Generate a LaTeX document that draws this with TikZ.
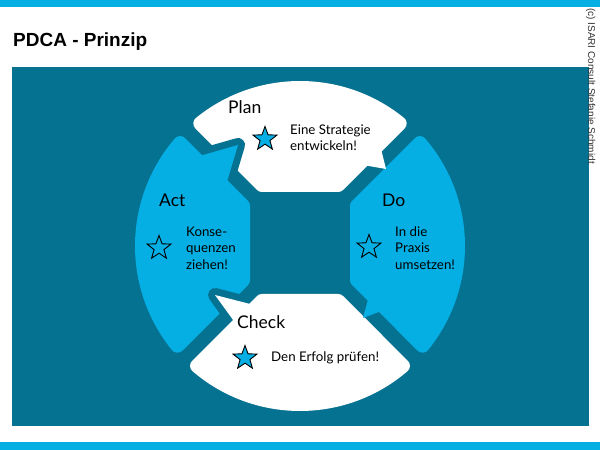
\documentclass[tikz,border=0pt]{standalone}
\usepackage{fontspec}
\setmainfont{Lato}
\newfontfamily\arialfont{Liberation Sans}
\usetikzlibrary{shapes.geometric}
\definecolor{pdcateal}{HTML}{067291}
\definecolor{pdcacyan}{HTML}{05AEE3}
\definecolor{copygray}{HTML}{333333}
\begin{document}
\begin{tikzpicture}[x=1pt,y=1pt,
  body/.style={line width=14pt, line join=round},
  clearance/.style={draw=pdcateal, fill=pdcateal, line width=14pt, line join=round},
  starshape/.style={star, star points=5, star point ratio=2.4, minimum size=25pt, inner sep=0pt, draw=black, line width=0.9pt},
  head/.style={font=\fontsize{17.5}{20}\selectfont, anchor=base west, inner sep=0pt, text=black},
  txt/.style={font=\fontsize{13.3}{16}\selectfont, anchor=base west, inner sep=0pt, text=black}]

\useasboundingbox (0,0) rectangle (600,450);
\fill[white] (0,0) rectangle (600,450);
\fill[pdcacyan] (0,443) rectangle (600,450);
\fill[pdcacyan] (0,0) rectangle (600,8.3);
\fill[pdcateal] (12,24) rectangle (589,383);

% bodies (shrunk shapes, widened by a round stroke of the same colour)
\filldraw[white, body] (261.9,265) -- ([shift={(300,204)}]129.12:158) arc[start angle=129.12, end angle=50.88, radius=158] -- (338.1,265) -- cycle;
\filldraw[pdcacyan, body] (357,244.1) -- ([shift={(300,204)}]40.66:158) arc[start angle=40.66, end angle=-39.12, radius=158] -- (357,169.9) -- cycle;
\filldraw[white, body] (261.9,149) -- ([shift={(300,204)}]-130.66:158) arc[start angle=-130.66, end angle=-49.34, radius=158] -- (338.1,149) -- cycle;
\filldraw[pdcacyan, body] (243,244.1) -- ([shift={(300,204)}]139.34:158) arc[start angle=139.34, end angle=219.12, radius=158] -- (243,169.9) -- cycle;

% tails that only touch their neighbour
\fill[white] (380,305) -- (386,281) -- (363,285) -- cycle;
\fill[pdcacyan] (369,154) -- (363,132) -- (384,140) -- cycle;

% Act tail cutting into Plan
\begin{scope}
  \clip (57,450) -- (600,450) -- (600,-93) -- cycle;
  \filldraw[clearance] (196,293) -- (238,305) -- (226,265) -- cycle;
\end{scope}
\fill[pdcacyan] (196,293) -- (238,305) -- (226,265) -- cycle;

% Check tail cutting into Act
\begin{scope}
  \clip (0,-93) -- (543,450) -- (0,450) -- cycle;
  \filldraw[clearance] (254,145) -- (215,155) -- (236,126) -- cycle;
\end{scope}
\fill[white] (254,145) -- (215,155) -- (236,126) -- cycle;

% title and copyright
\node[font=\arialfont\bfseries\fontsize{19}{23}\selectfont, anchor=base west, inner sep=0pt] (title) at (13,403) {PDCA - Prinzip};
\node[font=\arialfont\fontsize{10}{12}\selectfont, text=copygray, anchor=base west, rotate=-90, inner sep=0pt] (copy) at (588,442) {(c) ISARI Consult Stefanie Schmidt};

% Plan
\node[head] (plan) at (228,336) {Plan};
\node[starshape, fill=pdcacyan] (planstar) at (265,311) {};
\node[txt] (plan1) at (290,315) {Eine Strategie};
\node[txt] (plan2) at (290,299) {entwickeln!};

% Do
\node[head] (do) at (382,243) {Do};
\node[starshape, fill=pdcacyan] (dostar) at (369,203) {};
\node[txt] (do1) at (395,213) {In die};
\node[txt] (do2) at (395,197) {Praxis};
\node[txt] (do3) at (395,180) {umsetzen!};

% Check
\node[head] (check) at (237,121) {Check};
\node[starshape, fill=pdcacyan] (checkstar) at (245,92) {};
\node[txt] (check1) at (271,88) {Den Erfolg pr\"ufen!};

% Act
\node[head] (act) at (159,243) {Act};
\node[starshape, fill=pdcacyan] (actstar) at (159,202) {};
\node[txt] (act1) at (186,213) {Konse-};
\node[txt] (act2) at (186,197) {quenzen};
\node[txt] (act3) at (186,180) {ziehen!};
\end{tikzpicture}
\end{document}
